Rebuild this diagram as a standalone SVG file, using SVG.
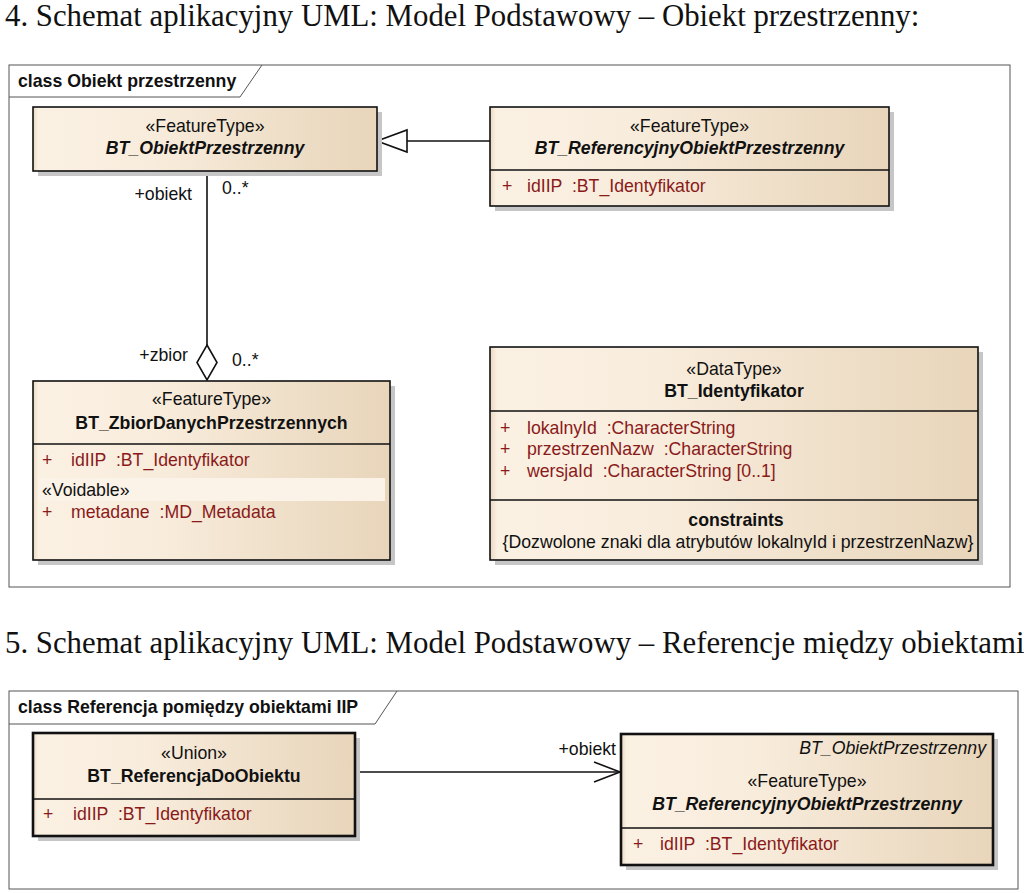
<svg xmlns="http://www.w3.org/2000/svg" width="1024" height="893" viewBox="0 0 1024 893">
<defs>
<linearGradient id="fill" x1="0" y1="0" x2="1" y2="0">
<stop offset="0" stop-color="#e9d8c0"/>
<stop offset="0.015" stop-color="#fbf1e3"/>
<stop offset="0.35" stop-color="#f8ecdc"/>
<stop offset="1" stop-color="#e8d5ba"/>
</linearGradient>
<style>
.h{font-family:"Liberation Serif","Times New Roman",serif;font-size:30.8px;fill:#111}
.t{font-family:"Liberation Sans",Arial,sans-serif;font-size:17.7px;fill:#111}
.b{font-weight:bold}
.i{font-style:italic}
.c{text-anchor:middle}
.e{text-anchor:end}
.a{fill:#8a1a1a}
.frame{fill:#fff;stroke:#555;stroke-width:1}
.box{fill:url(#fill);stroke:#111;stroke-width:1.6}
.box2{fill:url(#fill);stroke:#111;stroke-width:2.6}
.sh{fill:#c6c6c6}
.sep{stroke:#111;stroke-width:1.6}
.ln{stroke:#111;stroke-width:1.6;fill:none}
</style>
</defs>
<rect width="1024" height="893" fill="#fff"/>
<text class="h" x="5" y="26">4. Schemat aplikacyjny UML: Model Podstawowy – Obiekt przestrzenny:</text>
<text class="h" x="5" y="653">5. Schemat aplikacyjny UML: Model Podstawowy – Referencje między obiektami</text>

<g id="frame1">
<rect class="frame" x="9" y="65" width="1001" height="522"/>
<path d="M9,97 L240,97 L262,65" fill="none" stroke="#555" stroke-width="1"/>
<text class="t b" x="18" y="87">class Obiekt przestrzenny</text>
</g>
<g id="frame2">
<rect class="frame" x="9" y="691" width="1009" height="198"/>
<path d="M9,724 L375,724 L397,691" fill="none" stroke="#555" stroke-width="1"/>
<text class="t b" x="18" y="713">class Referencja pomiędzy obiektami IIP</text>
</g>

<g id="connectors">
<line class="ln" x1="490" y1="141" x2="407" y2="141"/>
<polygon points="377,141 407,130 407,152" fill="#fff" stroke="#111" stroke-width="1.6"/>
<line class="ln" x1="207" y1="171" x2="207" y2="345"/>
<polygon points="207,345 217,362.5 207,380 197,362.5" fill="#fff" stroke="#111" stroke-width="1.6"/>
<text class="t e" x="192" y="200">+obiekt</text>
<text class="t" x="222" y="194">0..*</text>
<text class="t e" x="188" y="361">+zbior</text>
<text class="t" x="232" y="366">0..*</text>
<line class="ln" x1="355" y1="772" x2="620" y2="772"/>
<polyline class="ln" points="594,762 620,772 594,782"/>
<text class="t e" x="616" y="755">+obiekt</text>
</g>

<g id="BT_ObiektPrzestrzenny">
<rect class="sh" x="38" y="112" width="344" height="64"/>
<rect class="box" x="33" y="107" width="344" height="64"/>
<text class="t c" x="205" y="132">«FeatureType»</text>
<text class="t c b i" x="205" y="154">BT_ObiektPrzestrzenny</text>
</g>

<g id="BT_ReferencyjnyObiektPrzestrzenny">
<rect class="sh" x="495" y="112" width="399" height="99"/>
<rect class="box" x="490" y="107" width="399" height="99"/>
<line class="sep" x1="490" y1="170" x2="889" y2="170"/>
<text class="t c" x="689.5" y="132">«FeatureType»</text>
<text class="t c b i" x="689.5" y="154">BT_ReferencyjnyObiektPrzestrzenny</text>
<text class="t a" x="502" y="192">+</text>
<text class="t a" x="527" y="192" xml:space="preserve">idIIP  :BT_Identyfikator</text>
</g>

<g id="BT_ZbiorDanychPrzestrzennych">
<rect class="sh" x="38" y="386" width="357" height="179"/>
<rect class="box" x="33" y="381" width="357" height="179"/>
<line class="sep" x1="33" y1="444" x2="390" y2="444"/>
<text class="t c" x="211.5" y="405">«FeatureType»</text>
<text class="t c b" x="211.5" y="429">BT_ZbiorDanychPrzestrzennych</text>
<text class="t a" x="42" y="466">+</text>
<text class="t a" x="71" y="466" xml:space="preserve">idIIP  :BT_Identyfikator</text>
<rect x="38" y="478" width="347" height="23" fill="#fbf3e8"/>
<text class="t" x="42" y="496" fill="#222">«Voidable»</text>
<text class="t a" x="42" y="518">+</text>
<text class="t a" x="71" y="518" xml:space="preserve">metadane  :MD_Metadata</text>
</g>

<g id="BT_Identyfikator">
<rect class="sh" x="495" y="352" width="488" height="213"/>
<rect class="box" x="490" y="347" width="488" height="213"/>
<line class="sep" x1="490" y1="411" x2="978" y2="411"/>
<line class="sep" x1="490" y1="500" x2="978" y2="500"/>
<text class="t c" x="734" y="375">«DataType»</text>
<text class="t c b" x="734" y="397">BT_Identyfikator</text>
<text class="t a" x="500" y="434">+</text>
<text class="t a" x="527" y="434" xml:space="preserve">lokalnyId  :CharacterString</text>
<text class="t a" x="500" y="455">+</text>
<text class="t a" x="527" y="455" xml:space="preserve">przestrzenNazw  :CharacterString</text>
<text class="t a" x="500" y="477">+</text>
<text class="t a" x="527" y="477" xml:space="preserve">wersjaId  :CharacterString [0..1]</text>
<text class="t c b" x="736" y="526">constraints</text>
<text class="t c" x="738" y="548">{Dozwolone znaki dla atrybutów lokalnyId i przestrzenNazw}</text>
</g>

<g id="BT_ReferencjaDoObiektu">
<rect class="sh" x="38" y="738" width="322" height="103"/>
<rect class="box2" x="33" y="733" width="322" height="103"/>
<line class="sep" x1="33" y1="799" x2="355" y2="799" stroke-width="2.2"/>
<text class="t c" x="194" y="759">«Union»</text>
<text class="t c b" x="194" y="782">BT_ReferencjaDoObiektu</text>
<text class="t a" x="43" y="820">+</text>
<text class="t a" x="73" y="820" xml:space="preserve">idIIP  :BT_Identyfikator</text>
</g>

<g id="BT_ReferencyjnyObiektPrzestrzenny_2">
<rect class="sh" x="626" y="739" width="372" height="131"/>
<rect class="box2" x="621" y="734" width="372" height="131"/>
<line class="sep" x1="621" y1="828" x2="993" y2="828" stroke-width="2.2"/>
<text class="t i e" x="986" y="754">BT_ObiektPrzestrzenny</text>
<text class="t c" x="807" y="787">«FeatureType»</text>
<text class="t c b i" x="807" y="810">BT_ReferencyjnyObiektPrzestrzenny</text>
<text class="t a" x="633" y="850">+</text>
<text class="t a" x="660" y="850" xml:space="preserve">idIIP  :BT_Identyfikator</text>
</g>
</svg>
